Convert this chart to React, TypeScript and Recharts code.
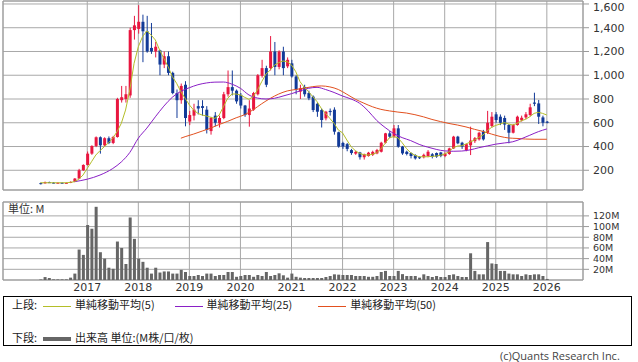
import { ComposedChart, Bar, Line, XAxis, YAxis, CartesianGrid, ReferenceArea } from 'recharts';

// month index 0 = Jan 2017, first candle is Feb 2016
const FIRST_MONTH = -11;

const open = [
  92, 90, 100, 96, 94, 95, 93, 94, 102, 130, 200,
  245, 340, 405, 478, 410, 470, 430, 480, 790, 800, 830, 1380,
  1390, 1450, 1370, 1230, 1200, 1210, 1090, 1160, 1020, 850, 790, 920,
  610, 660, 740, 740, 710, 530, 660, 595, 640, 840, 900, 870,
  835, 745, 665, 710, 840, 995, 1060, 1060, 1200, 1070, 1200, 1075,
  1100, 990, 862, 900, 850, 820, 760, 707, 637, 700, 710, 520,
  430, 420, 370, 340, 350, 310, 320, 330, 342, 356, 432, 511,
  483, 553, 399, 356, 345, 328, 310, 310, 320, 335, 345, 350,
  320, 337, 384, 483, 432, 370, 410, 445, 460, 525, 516, 573,
  671, 651, 640, 581, 516, 581, 620, 645, 665, 770, 763, 645, 609,
];
const close = [
  88, 100, 98, 94, 95, 93, 94, 102, 130, 200, 245,
  340, 405, 478, 410, 470, 430, 480, 800, 815, 840, 1380, 1420,
  1450, 1370, 1200, 1200, 1240, 1090, 1160, 1020, 850, 790, 910, 640,
  665, 710, 720, 725, 540, 640, 600, 640, 840, 900, 870, 780,
  745, 665, 720, 850, 1000, 1060, 920, 1200, 1070, 1200, 1060, 1130,
  990, 880, 890, 840, 806, 707, 693, 623, 693, 690, 525, 400,
  400, 380, 345, 355, 310, 335, 348, 355, 370, 432, 511, 483,
  553, 399, 342, 337, 320, 300, 305, 330, 356, 315, 315, 320,
  340, 384, 483, 427, 399, 420, 450, 470, 516, 460, 600, 651,
  623, 600, 585, 516, 581, 651, 642, 671, 730, 760, 651, 600, 600,
];
const high = [
  96, 105, 104, 100, 98, 98, 97, 106, 135, 212, 250,
  358, 410, 485, 485, 478, 485, 490, 810, 910, 910, 1400, 1500,
  1590, 1510, 1500, 1440, 1280, 1215, 1200, 1200, 1030, 880, 930, 950,
  700, 760, 790, 790, 740, 650, 690, 660, 860, 1040, 1040, 880,
  850, 750, 790, 860, 1010, 1130, 1080, 1330, 1280, 1210, 1240, 1150,
  1130, 1000, 920, 920, 870, 830, 770, 720, 700, 720, 730, 525,
  440, 430, 380, 365, 355, 340, 355, 365, 380, 440, 515, 530,
  581, 581, 405, 365, 350, 335, 318, 340, 370, 345, 350, 355,
  350, 390, 490, 490, 440, 425, 567, 480, 525, 540, 700, 690,
  690, 670, 660, 590, 590, 660, 660, 690, 760, 853, 792, 660, 615,
];
const low = [
  80, 88, 94, 90, 90, 90, 90, 92, 100, 125, 195,
  240, 330, 395, 340, 400, 420, 420, 475, 770, 770, 810, 1300,
  1350, 1110, 1190, 1180, 1150, 1000, 1060, 1000, 840, 640, 760, 570,
  580, 620, 670, 660, 510, 500, 570, 560, 630, 820, 830, 760,
  720, 650, 567, 700, 830, 980, 900, 1040, 1000, 1050, 1000, 1060,
  980, 840, 800, 820, 790, 690, 650, 560, 620, 660, 500, 390,
  380, 360, 330, 330, 290, 290, 315, 320, 335, 350, 425, 470,
  475, 390, 330, 325, 300, 290, 295, 300, 310, 300, 305, 310,
  310, 330, 380, 420, 380, 360, 328, 430, 450, 450, 505, 560,
  600, 580, 540, 427, 510, 575, 610, 630, 655, 740, 590, 570, 595,
];
const volume = [
  1, 5.5, 3.8, 1.2, 1.2, 1.2, 1.2, 4.4, 12, 57, 47,
  103, 96, 137, 52, 40, 23, 21, 72, 60, 30, 117, 77,
  40, 34, 23, 12, 23, 14, 16, 16, 12, 12, 19, 15,
  7.5, 7.5, 9.4, 7.5, 12, 12, 7.5, 9.4, 9.4, 15, 15, 6,
  7.5, 9.4, 9.4, 6, 9.4, 7.5, 15, 7.5, 9.4, 12.5, 8.8, 4.4,
  12, 6, 4.4, 3.8, 3.8, 3.8, 3.8, 3.8, 5.6, 7.5, 10.6, 10,
  9.4, 9.4, 9.4, 7.5, 7.5, 7.5, 6, 6, 7.5, 15, 17, 7.5,
  7.5, 17, 11, 7.5, 7.5, 7.5, 4.4, 10.6, 7.5, 5.6, 7.5, 5.6,
  5.6, 9.4, 10.6, 7.5, 5.6, 5.6, 50, 17, 10.6, 10.6, 71, 31,
  30, 17, 17, 12, 10.6, 10.6, 7.5, 10.6, 9.4, 10.6, 10.6, 7.5, 2,
];
const sma5 = [
  95, 95, 95, 95, 95, 95, 95, 98, 104, 124, 160,
  216, 272, 328, 365, 398, 432, 469, 525, 595, 707, 876, 1100,
  1240, 1325, 1373, 1339, 1297, 1213, 1142, 1072, 988, 932, 862, 806,
  750, 707, 679, 665, 657, 646, 637, 665, 735, 806, 842, 842,
  834, 814, 797, 820, 876, 946, 1010, 1044, 1086, 1106, 1120, 1114,
  1086, 1030, 946, 898, 862, 820, 778, 721, 679, 637, 595, 539,
  515, 455, 399, 365, 342, 331, 328, 334, 348, 379, 427, 474,
  483, 474, 432, 384, 348, 326, 314, 314, 314, 317, 320, 326,
  337, 356, 390, 404, 407, 421, 438, 455, 477, 497, 533, 561,
  578, 589, 601, 590, 581, 595, 617, 629, 651, 679, 688, 679, 665,
];
// [month index, value]
const sma25 = [
  [-3, 104], [0, 125], [3, 160], [6, 215], [8, 270], [10, 350], [12, 470], [14, 555],
  [16, 650], [18, 740], [20, 815], [22, 865], [24, 895], [26, 920], [28, 935], [30, 942],
  [32, 943], [34, 925], [36, 890], [38, 834], [40, 808], [42, 800], [44, 806], [46, 825],
  [48, 845], [50, 868], [52, 890], [54, 898], [56, 880], [58, 855], [60, 825], [62, 800],
  [64, 764], [66, 700], [68, 620], [70, 560], [72, 510], [74, 475], [76, 450], [78, 418],
  [80, 395], [82, 376], [84, 363], [86, 360], [88, 362], [90, 372], [92, 390], [94, 405],
  [96, 420], [98, 430], [100, 440], [102, 465], [104, 495], [106, 525], [108, 548],
];
const sma50 = [
  [22, 470], [23, 483], [25, 505], [27, 530], [29, 555], [31, 585], [33, 612], [35, 642],
  [37, 668], [39, 710], [41, 760], [43, 805], [45, 842], [47, 868], [49, 880], [51, 892],
  [53, 904], [55, 910], [57, 902], [59, 880], [61, 840], [63, 798], [65, 765], [67, 735],
  [69, 713], [71, 700], [73, 690], [75, 682], [77, 668], [79, 650], [81, 628], [83, 610],
  [85, 594], [87, 581], [89, 565], [91, 545], [93, 527], [95, 505], [97, 485], [99, 472],
  [101, 468], [103, 463], [105, 461], [108, 461],
];

const yearTicks = [0, 12, 24, 36, 48, 60, 72, 84, 96, 108];
const yearLabels = ['2017', '2018', '2019', '2020', '2021', '2022', '2023', '2024', '2025', '2026'];
const priceTicks = [200, 400, 600, 800, 1000, 1200, 1400, 1600];
const volTicks = [20, 40, 60, 80, 100, 120];

const X_DOMAIN: [number, number] = [-19.8, 116.5];
const P_DOMAIN: [number, number] = [34, 1625];
const V_DOMAIN: [number, number] = [0, 146];

const RED = '#e8163f';
const BLUE = '#123a98';
const C5 = '#b4be28';
const C25 = '#8a1fc6';
const C50 = '#e2501f';
const GRID = '#a8a8a8';
const FRAME = '#999999';
const AXIS_FONT = { fontFamily: 'DejaVu Sans', fontSize: 11, fill: '#333' };
const JP_FONT = '"Noto Sans CJK JP", sans-serif';

const lookup25 = new Map(sma25.map(([m, v]) => [m, v]));
const lookup50 = new Map(sma50.map(([m, v]) => [m, v]));

const rows = close.map((c, k) => {
  const m = k + FIRST_MONTH;
  return {
    m,
    open: open[k],
    close: c,
    high: high[k],
    low: low[k],
    range: [low[k], high[k]],
    vol: volume[k],
    sma5: sma5[k],
    sma25: lookup25.has(m) ? lookup25.get(m) : null,
    sma50: lookup50.has(m) ? lookup50.get(m) : null,
  };
});

function Candle(props: any) {
  const { x, y, width, height, payload } = props;
  if (x == null || y == null) return null;
  const top = Math.min(y, y + height);
  const h = Math.abs(height);
  const span = payload.high - payload.low || 1;
  const py = (v: number) => top + (h * (payload.high - v)) / span;
  const up = payload.close >= payload.open;
  const color = up ? RED : BLUE;
  const cx = x + width / 2;
  const bTop = py(Math.max(payload.open, payload.close));
  const bBot = py(Math.min(payload.open, payload.close));
  return (
    <g>
      <line x1={cx} x2={cx} y1={top} y2={top + h} stroke={color} strokeWidth={1} />
      <rect x={x} y={bTop} width={width} height={Math.max(1, bBot - bTop)} fill={color} />
    </g>
  );
}

// price labels; the top one is kept inside the picture
function PriceTick(props: any) {
  const { x, y, payload } = props;
  return (
    <text x={x} y={Math.max(y, 7)} dy="0.36em" textAnchor="start" {...AXIS_FONT}>
      {Number(payload.value).toLocaleString('en-US')}
    </text>
  );
}

function VolTick(props: any) {
  const { x, y, payload } = props;
  return (
    <text x={x} y={y} dy="0.36em" textAnchor="start" fontFamily="DejaVu Sans" fontSize={9.5} fill="#333">
      {`${payload.value}M`}
    </text>
  );
}

function LegendLine({ color, thick }: { color: string; thick?: boolean }) {
  return (
    <span
      style={{
        display: 'inline-block',
        width: 28,
        height: thick ? 4 : 1,
        background: color,
        verticalAlign: 'middle',
        margin: '0 4px 0 6px',
      }}
    />
  );
}

export default function App() {
  return (
    <div style={{ position: 'absolute', left: 0, top: 0, width: 638, height: 362, background: '#fff', fontFamily: JP_FONT }}>
      <div style={{ position: 'absolute', left: 0, top: 0 }}>
        <ComposedChart width={638} height={195} data={rows} margin={{ top: 1, right: 0, bottom: 5, left: 3 }}>
          <CartesianGrid stroke={GRID} />
          <XAxis type="number" dataKey="m" domain={X_DOMAIN} ticks={yearTicks} allowDataOverflow hide />
          <YAxis
            orientation="right"
            width={55}
            domain={P_DOMAIN}
            ticks={priceTicks}
            interval={0}
            allowDataOverflow
            axisLine={false}
            tickSize={6}
            tickMargin={4}
            tickLine={{ stroke: FRAME }}
            tick={<PriceTick />}
          />
          <ReferenceArea x1={X_DOMAIN[0]} x2={X_DOMAIN[1]} y1={P_DOMAIN[0]} y2={P_DOMAIN[1]} fill="none" stroke={FRAME} strokeOpacity={1} />
          <Bar dataKey="range" barSize={3} shape={<Candle />} isAnimationActive={false} />
          <Line type="monotone" dataKey="sma50" stroke={C50} strokeWidth={1} dot={false} connectNulls isAnimationActive={false} />
          <Line type="monotone" dataKey="sma25" stroke={C25} strokeWidth={1} dot={false} connectNulls isAnimationActive={false} />
          <Line type="linear" dataKey="sma5" stroke={C5} strokeWidth={1} dot={false} isAnimationActive={false} />
        </ComposedChart>
      </div>

      <div style={{ position: 'absolute', left: 0, top: 196 }}>
        <ComposedChart width={638} height={100} data={rows} margin={{ top: 6, right: 0, bottom: 0, left: 3 }}>
          <CartesianGrid stroke={GRID} />
          <XAxis
            type="number"
            dataKey="m"
            domain={X_DOMAIN}
            ticks={yearTicks}
            interval={0}
            allowDataOverflow
            height={16}
            axisLine={false}
            tickLine={false}
            tickSize={0}
            tickMargin={3}
            tick={AXIS_FONT}
            tickFormatter={(v: number) => yearLabels[yearTicks.indexOf(v)] ?? ''}
          />
          <YAxis
            orientation="right"
            width={55}
            domain={V_DOMAIN}
            ticks={volTicks}
            interval={0}
            allowDataOverflow
            axisLine={false}
            tickSize={6}
            tickMargin={4}
            tickLine={{ stroke: FRAME }}
            tick={<VolTick />}
          />
          <ReferenceArea x1={X_DOMAIN[0]} x2={X_DOMAIN[1]} y1={V_DOMAIN[0]} y2={V_DOMAIN[1]} fill="none" stroke={FRAME} strokeOpacity={1} />
          <Bar dataKey="vol" barSize={3} fill="#666666" isAnimationActive={false} />
        </ComposedChart>
      </div>

      <div style={{ position: 'absolute', left: 8, top: 202, fontSize: 11, color: '#333', lineHeight: '13px' }}>単位: M</div>

      <div
        style={{
          position: 'absolute',
          left: 3,
          top: 296,
          width: 629,
          height: 50,
          border: '1px solid #000',
          boxSizing: 'border-box',
          fontSize: 11,
          color: '#222',
        }}
      >
        <div style={{ position: 'absolute', left: 8, top: 0, lineHeight: '14px', whiteSpace: 'nowrap' }}>
          上段:
          <LegendLine color={C5} />
          単純移動平均(5)
          <span style={{ display: 'inline-block', width: 14 }} />
          <LegendLine color={C25} />
          単純移動平均(25)
          <span style={{ display: 'inline-block', width: 20 }} />
          <LegendLine color={C50} />
          単純移動平均(50)
        </div>
        <div style={{ position: 'absolute', left: 8, top: 33, lineHeight: '14px', whiteSpace: 'nowrap' }}>
          下段:
          <LegendLine color="#666666" thick />
          出来高 単位:(M株/口/枚)
        </div>
      </div>

      <div style={{ position: 'absolute', left: 500, top: 349, fontSize: 11, color: '#444', fontFamily: '"Open Sans", sans-serif', lineHeight: '13px', whiteSpace: 'nowrap' }}>
        (c)Quants Research Inc.
      </div>
    </div>
  );
}
